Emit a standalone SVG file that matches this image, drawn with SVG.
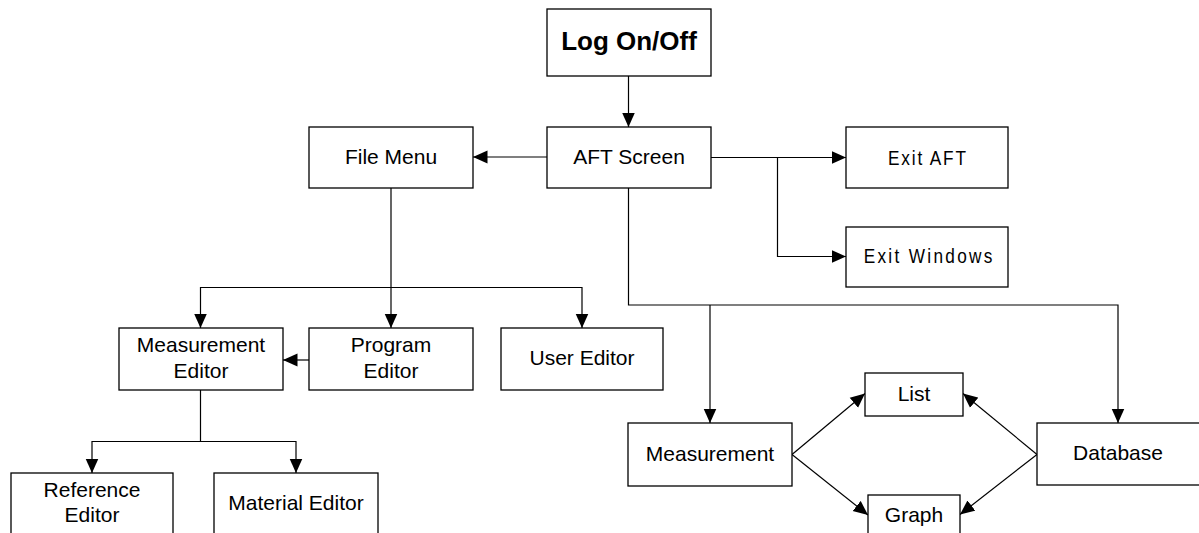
<svg xmlns="http://www.w3.org/2000/svg" width="1199" height="533" viewBox="0 0 1199 533">
<defs>
<style>
.box{fill:#fff;stroke:#000;stroke-width:1.3}
.t{font-family:"Liberation Sans",Arial,sans-serif;font-size:21px;text-anchor:middle;fill:#000}
.b{font-weight:bold;font-size:26px}
.c{fill:none;stroke:#000;stroke-width:1.2}
</style>
<marker id="ah" markerUnits="userSpaceOnUse" markerWidth="15" markerHeight="14" refX="14.5" refY="7" orient="auto">
<path d="M0,0.5 L14.5,7 L0,13.5 z" fill="#000"/>
</marker>
</defs>
<rect width="1199" height="533" fill="#fff"/>
<g id="connectors">
<path class="c" d="M628.5,76 V127" marker-end="url(#ah)"/>
<path class="c" d="M547,157 H473" marker-end="url(#ah)"/>
<path class="c" d="M711,157.5 H846" marker-end="url(#ah)"/>
<path class="c" d="M777.5,157.5 V256.5 H846" marker-end="url(#ah)"/>
<path class="c" d="M628.5,188 V305 H1118 V423" marker-end="url(#ah)"/>
<path class="c" d="M710,305 V423" marker-end="url(#ah)"/>
<path class="c" d="M391,188 V287.5 H200.5 V328" marker-end="url(#ah)"/>
<path class="c" d="M391,287.5 V328" marker-end="url(#ah)"/>
<path class="c" d="M391,287.5 H582 V328" marker-end="url(#ah)"/>
<path class="c" d="M309,360 H283" marker-end="url(#ah)"/>
<path class="c" d="M200.5,390 V441.5 H92 V473" marker-end="url(#ah)"/>
<path class="c" d="M200.5,441.5 H296 V473" marker-end="url(#ah)"/>
<path class="c" d="M792,454.5 L865,393.5" marker-end="url(#ah)"/>
<path class="c" d="M792,454.5 L868,515" marker-end="url(#ah)"/>
<path class="c" d="M1037,454.5 L963,393.5" marker-end="url(#ah)"/>
<path class="c" d="M1037,454.5 L960,514.5" marker-end="url(#ah)"/>
</g>
<g id="logon"><rect class="box" x="547" y="9" width="164" height="67"/><text class="t b" x="629" y="50">Log On/Off</text></g>
<g id="aft"><rect class="box" x="547" y="127" width="164" height="61"/><text class="t" x="629" y="164">AFT Screen</text></g>
<g id="filemenu"><rect class="box" x="309" y="127" width="164" height="61"/><text class="t" x="391" y="164">File Menu</text></g>
<g id="exitaft"><rect class="box" x="846" y="127" width="162" height="61"/><text class="t" transform="translate(927,165) scale(0.82,1)" x="0" y="0" textLength="95" lengthAdjust="spacing">Exit AFT</text></g>
<g id="exitwin"><rect class="box" x="846" y="227" width="162" height="60"/><text class="t" transform="translate(928,263) scale(0.82,1)" x="0" y="0" textLength="157" lengthAdjust="spacing">Exit Windows</text></g>
<g id="measeditor"><rect class="box" x="119" y="328" width="164" height="62"/><text class="t" x="201" y="352">Measurement</text><text class="t" x="201" y="378">Editor</text></g>
<g id="progeditor"><rect class="box" x="309" y="328" width="164" height="62"/><text class="t" x="391" y="352">Program</text><text class="t" x="391" y="378">Editor</text></g>
<g id="usereditor"><rect class="box" x="501" y="328" width="162" height="62"/><text class="t" x="582" y="365">User Editor</text></g>
<g id="refeditor"><rect class="box" x="11" y="473" width="162" height="70"/><text class="t" x="92" y="497">Reference</text><text class="t" x="92" y="522">Editor</text></g>
<g id="mateditor"><rect class="box" x="214" y="473" width="164" height="70"/><text class="t" x="296" y="510">Material Editor</text></g>
<g id="measurement"><rect class="box" x="628" y="423" width="164" height="63"/><text class="t" x="710" y="461">Measurement</text></g>
<g id="list"><rect class="box" x="865" y="373" width="98" height="43"/><text class="t" x="914" y="401">List</text></g>
<g id="graph"><rect class="box" x="868" y="495" width="92" height="50"/><text class="t" x="914" y="522">Graph</text></g>
<g id="database"><rect class="box" x="1037" y="423" width="163" height="62"/><text class="t" x="1118" y="460">Database</text></g>
</svg>
